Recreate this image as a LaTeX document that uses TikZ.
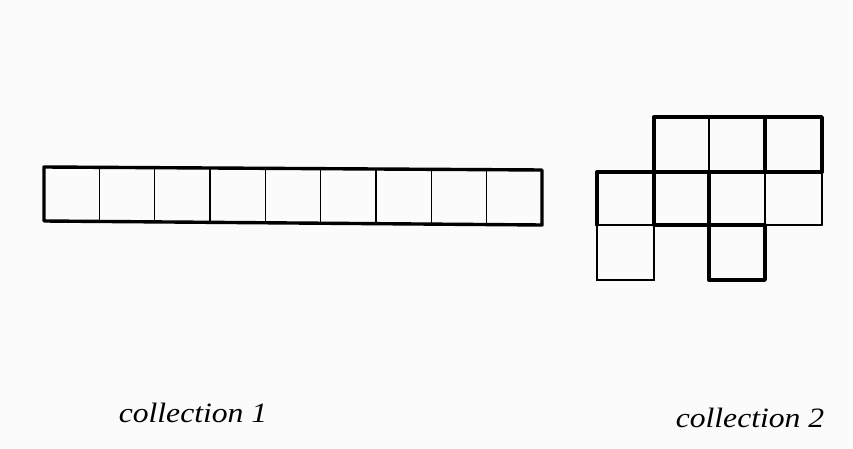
\documentclass[tikz,border=0pt]{standalone}
\usepackage{fontspec}
\setmainfont{Liberation Serif}
\usetikzlibrary{calc}
\begin{document}
\begin{tikzpicture}[x=1pt,y=-1pt,
  thickline/.style={line width=3.4pt,line cap=round,line join=round},
  thinline/.style={line width=1.6pt,line cap=round},
  label/.style={font=\fontsize{28}{30}\selectfont\itshape,anchor=base,inner sep=0pt}]
\fill[white!98.5!black] (0,0) rectangle (853,449);
\useasboundingbox (0,0) rectangle (853,449);
% collection 1
\coordinate (tl) at (44,167);
\coordinate (tr) at (542,170);
\coordinate (br) at (542,225);
\coordinate (bl) at (44,221);
\foreach \i in {1,...,8}{
  \draw[thinline] ($(tl)!\i/9!(tr)$) -- ($(bl)!\i/9!(br)$);
}
\draw[thickline] (tl) -- (tr) -- (br) -- (bl) -- cycle;
% collection 2 grid
\def\xa{597}\def\xb{654}\def\xc{709}\def\xd{765}\def\xe{822}
\def\ya{117}\def\yb{172}\def\yc{225}\def\yd{280}
% thin edges
\draw[thinline] (\xc,\ya) -- (\xc,\yb);
\draw[thinline] (\xd,\yb) -- (\xd,\yc);
\draw[thinline] (\xe,\yb) -- (\xe,\yc);
\draw[thinline] (\xd,\yc) -- (\xe,\yc);
\draw[thinline] (\xa,\yc) -- (\xb,\yc);
\draw[thinline] (\xa,\yc) -- (\xa,\yd) -- (\xb,\yd) -- (\xb,\yc);
% thick edges
\draw[thickline] (\xb,\yb) -- (\xb,\ya) -- (\xe,\ya) -- (\xe,\yb);
\draw[thickline] (\xd,\ya) -- (\xd,\yb);
\draw[thickline] (\xa,\yc) -- (\xa,\yb) -- (\xe,\yb);
\draw[thickline] (\xb,\yb) -- (\xb,\yc) -- (\xd,\yc);
\draw[thickline] (\xc,\yb) -- (\xc,\yd) -- (\xd,\yd) -- (\xd,\yc);
% labels
\node[label] (c1) at (193,422) {\scalebox{1.13}[1]{collection 1}};
\node[label] (c2) at (750,427) {\scalebox{1.13}[1]{collection 2}};
\end{tikzpicture}
\end{document}
